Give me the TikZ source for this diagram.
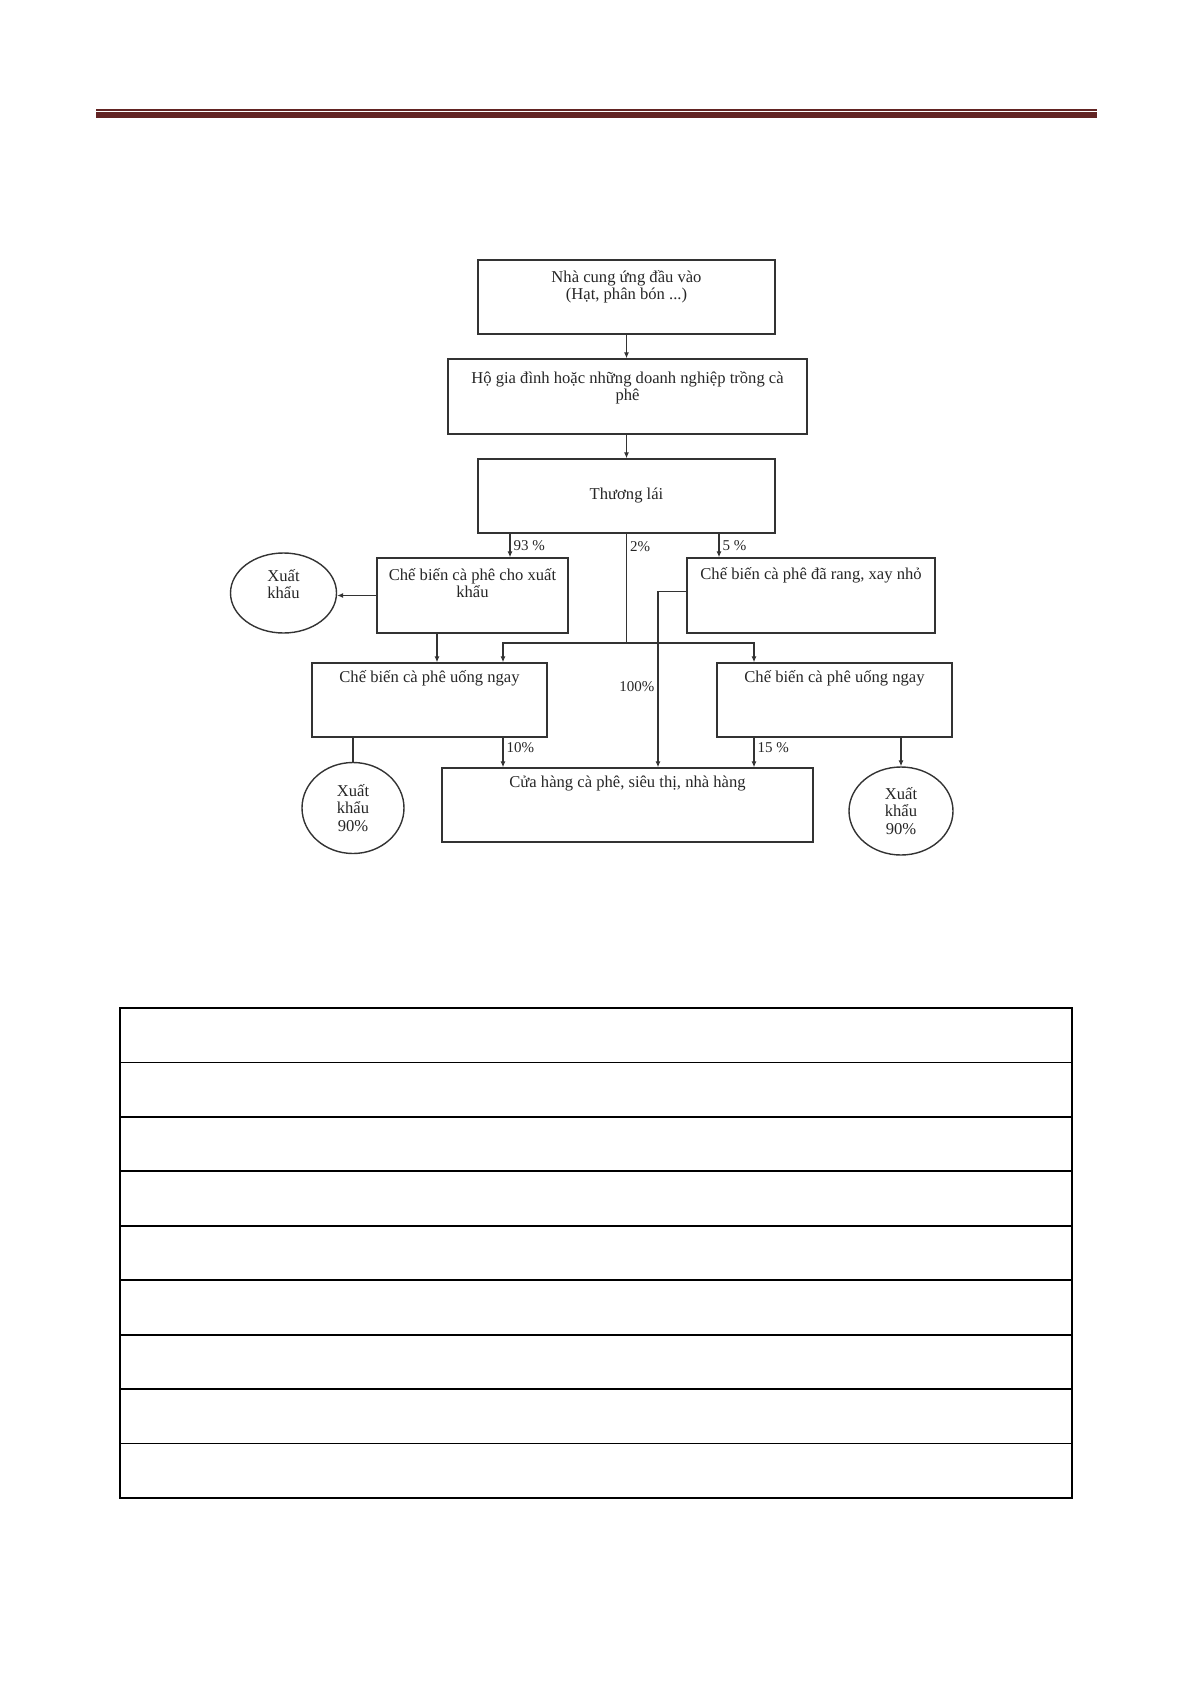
\documentclass[tikz,border=0pt]{standalone}
\usepackage{fontspec}
\setmainfont{Liberation Serif}
\usepackage{xcolor}
\usepackage{tikz}
\usetikzlibrary{arrows.meta,positioning,shapes.geometric}
\definecolor{hdrred}{HTML}{622423}
\tikzset{
  box/.style={draw=black!80, line width=0.7pt, inner sep=0pt},
  oval/.style={ellipse, draw=black!80, line width=0.7pt, inner sep=0pt, align=center, text=black!85},
  txt/.style={align=center, inner sep=0pt, text=black!85},
  link/.style={line width=0.7pt, black!80},
  arr/.style={link, -{Latex[length=3pt,width=2.6pt]}},
  pct/.style={font=\fontsize{7.5}{8}\selectfont, inner sep=1.5pt, text=black!85},
  tbl/.style={line width=0.9pt, black},
  hdr/.style={fill=hdrred},
}

\begin{document}
\begin{tikzpicture}[x=0.5pt, y=-0.5pt, font=\fontsize{8.3}{8.6}\selectfont]
\useasboundingbox (0,0) rectangle (1192,1685);

% header rule
\fill[hdr] (96,109) rectangle (1097,111);
\fill[hdr] (96,112.3) rectangle (1097,118);

% boxes
\node[box, minimum width=148.5pt, minimum height=37pt] (sup) at (626.5,297) {};
\node[txt, below=5.2pt of sup.north] (sup-t) {Nhà cung ứng đầu vào\\(Hạt, phân bón ...)};
\node[box, minimum width=179.5pt, minimum height=37.5pt] (farm) at (627.5,396.5) {};
\node[txt, below=6.5pt of farm.north] (farm-t) {Hộ gia đình hoặc những doanh nghiệp trồng cà\\phê};
\node[box, minimum width=148.5pt, minimum height=37pt, text=black!85] (trader) at (626.5,496) {Thương lái};
\node[box, minimum width=95.5pt, minimum height=37.5pt] (expproc) at (472.5,595.5) {};
\node[txt, below=5.5pt of expproc.north] (expproc-t) {Chế biến cà phê cho xuất\\khẩu};
\node[box, minimum width=124pt, minimum height=37.5pt] (roast) at (811,595.5) {};
\node[txt, below=4.7pt of roast.north] (roast-t) {Chế biến cà phê đã rang, xay nhỏ};
\node[box, minimum width=117.5pt, minimum height=37pt] (drinkL) at (429.5,700) {};
\node[txt, below=4pt of drinkL.north] (drinkL-t) {Chế biến cà phê uống ngay};
\node[box, minimum width=117.5pt, minimum height=37pt] (drinkR) at (834.5,700) {};
\node[txt, below=4pt of drinkR.north] (drinkR-t) {Chế biến cà phê uống ngay};
\node[box, minimum width=185.5pt, minimum height=37pt] (shop) at (627.5,805) {};
\node[txt, below=4.2pt of shop.north] (shop-t) {Cửa hàng cà phê, siêu thị, nhà hàng};

% export ovals
\node[oval, minimum width=53pt, minimum height=40pt] (expA) at (283.5,593) {};
\node[txt] (expA-t) at ([yshift=4.5pt]expA) {Xuất\\khẩu};
\node[oval, minimum width=51pt, minimum height=45.5pt] (exp90L) at (353,808) {Xuất\\khẩu\\90\%};
\node[oval, minimum width=52pt, minimum height=44pt] (exp90R) at (901,811) {Xuất\\khẩu\\90\%};

% branch points
\coordinate (x93) at (510,0);
\coordinate (x5) at (719,0);
\coordinate (xL) at (437,0);
\coordinate (xM) at (503,0);
\coordinate (xR) at (754,0);
\coordinate (x100) at (658,0);
\coordinate (jn) at (626.5,643);

% flows
\draw[arr] (sup.south) -- (sup.south |- farm.north);
\draw[arr] (trader.north |- farm.south) -- (trader.north);
\draw[arr] (trader.south -| x93) -- (expproc.north -| x93) node[pct, right, midway] (p93) {93 \%};
\draw[link] (trader.south) -- (jn) node[pct, right, pos=.12] (p2) {2\%};
\draw[arr] (jn) -| (drinkL.north -| xM);
\draw[arr] (jn) -| (drinkR.north -| xR);
\draw[arr] (trader.south -| x5) -- (roast.north -| x5) node[pct, right, midway] (p5) {5 \%};
\draw[arr] (expproc.west) -- (expproc.west -| expA.east);
\draw[arr] (expproc.south -| xL) -- (drinkL.north -| xL);
\draw[arr] ([yshift=2pt]roast.west) -| (shop.north -| x100) node[pct, left, pos=.77] (p100) {100\%};
\draw[arr] (drinkL.south -| xM) -- (shop.north -| xM) node[pct, right, pos=.35] (p10) {10\%};
\draw[arr] (drinkR.south -| xR) -- (shop.north -| xR) node[pct, right, pos=.35] (p15) {15 \%};
\draw[link] (drinkL.south -| exp90L) -- (exp90L.north);
\draw[arr] (drinkR.south -| exp90R) -- (exp90R.north);

% empty table
\draw[tbl] (120,1008) rectangle (1072,1498);
\foreach \i in {1,...,8}
  \draw[tbl] (120,{1008+54.44*\i}) -- (1072,{1008+54.44*\i});
\end{tikzpicture}
\end{document}
